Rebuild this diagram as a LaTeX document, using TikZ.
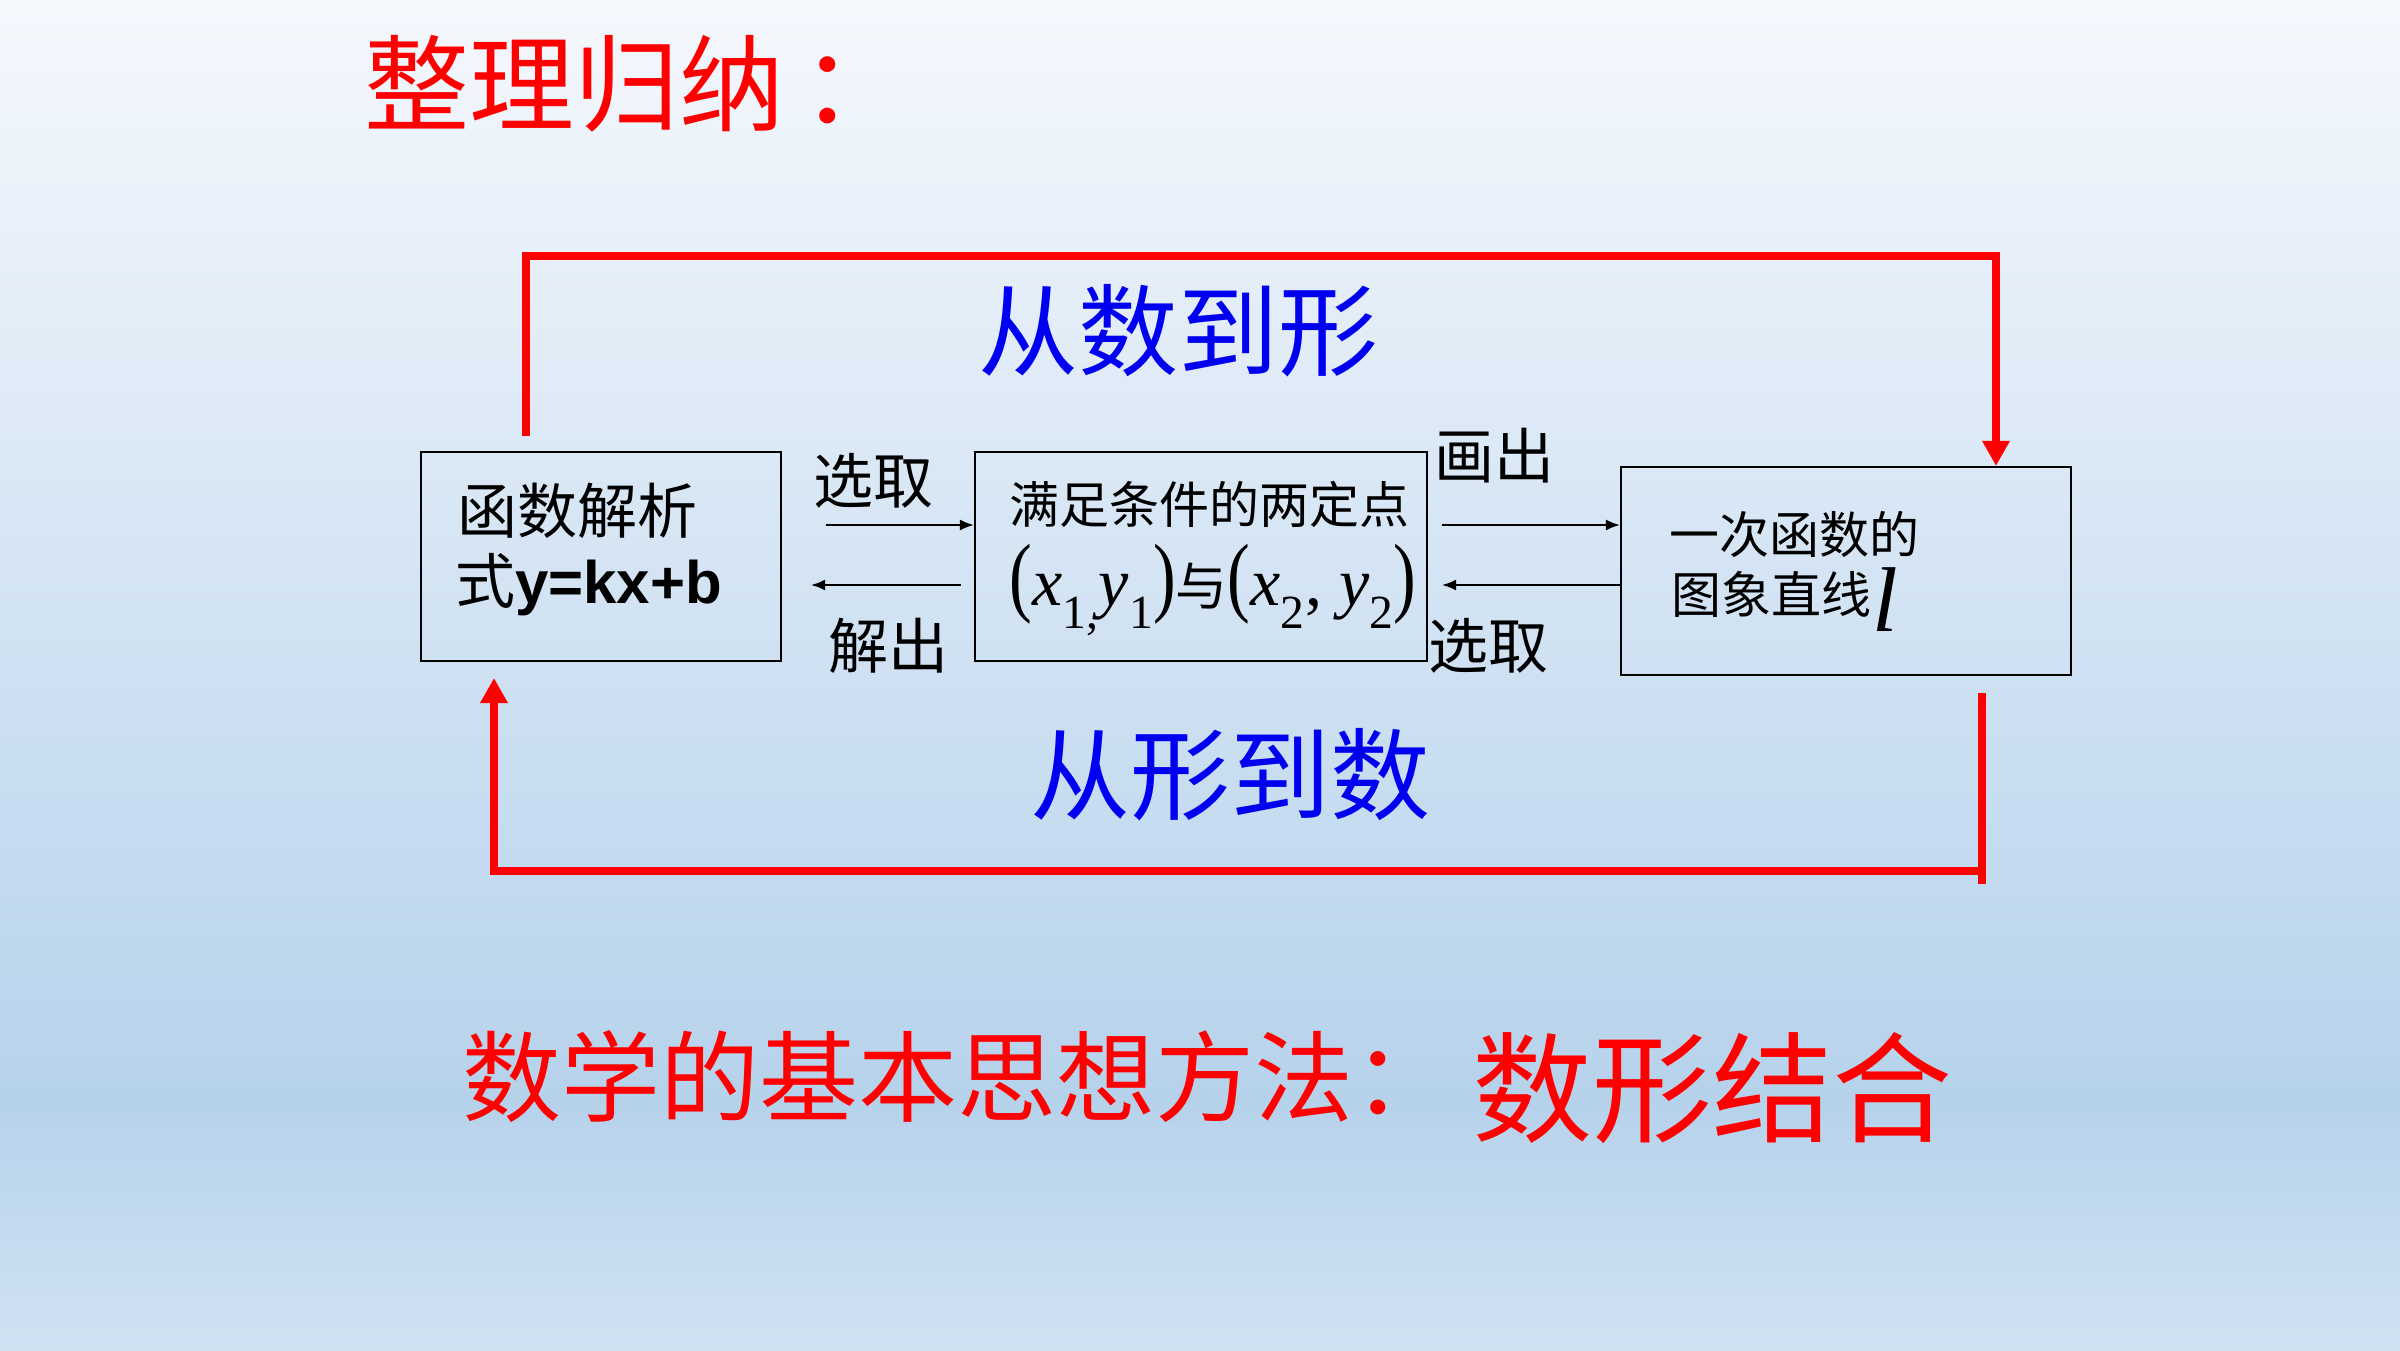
\documentclass[tikz,border=0pt]{standalone}
\usepackage{fontspec}
\setmainfont{Noto Sans CJK SC}
\newfontfamily\tnr{Liberation Serif}
\newfontfamily\arial{Liberation Sans}
\usetikzlibrary{arrows.meta}
\definecolor{bgtop}{HTML}{F5F8FD}
\definecolor{bgmid}{HTML}{B6D2EB}
\definecolor{bgbot}{HTML}{D0E2F2}
\definecolor{myred}{HTML}{FF0000}
\definecolor{myblue}{HTML}{0000F0}
\newcommand{\fsz}[1]{\fontsize{#1}{#1}\selectfont}
\newcommand{\tallp}[1]{\scalebox{1}[1.3]{#1}}
\tikzset{
  box/.style={draw=black, line width=2.2pt, fill=none, inner sep=0pt},
  txt/.style={inner sep=0pt, outer sep=0pt, text=black},
  blk/.style={draw=black, line width=2pt, -{Latex[length=14pt,width=11pt]}},
  redl/.style={draw=myred, line width=7.5pt, line join=miter},
  reda/.style={redl, -{Triangle[length=25pt,width=26pt]}},
}
\begin{document}
\begin{tikzpicture}[x=1pt,y=-1pt]
\useasboundingbox (0,0) rectangle (2400,1350);
\shade[top color=bgtop, bottom color=bgmid] (0,0) rectangle (2400,1101);
\shade[top color=bgmid, bottom color=bgbot] (0,1100) rectangle (2400,1350);

% title
\node[txt, anchor=west, text=myred] (title) at (364,84) {\fsz{105}整理归纳\,：};

% boxes
\node[box, minimum width=360pt, minimum height=209pt] (b1) at (601,556.5) {};
\node[box, minimum width=452pt, minimum height=209pt] (b2) at (1201,556.5) {};
\node[box, minimum width=450pt, minimum height=208pt] (b3) at (1846,571) {};

% box texts
\node[txt, anchor=west] (t1a) at (457,511) {\fsz{60}函数解析};
\node[txt, anchor=west] (t1b) at (455,585) {\fsz{60}式{\arial\bfseries y=kx+b}};
\node[txt] (t2a) at (1209,504) {\fsz{50}满足条件的两定点};
\node[txt] (t2b) at (1213,590) {\tnr\fsz{68}\tallp{(}\textit{x}\textsubscript{1,}\textit{y}\textsubscript{1}\tallp{)}{\rmfamily\fsz{52}与}\tallp{(}\textit{x}\textsubscript{2}, \textit{y}\textsubscript{2}\tallp{)}};
\node[txt, anchor=west] (t3a) at (1669,534) {\fsz{50}一次函数的};
\node[txt, anchor=west] (t3b) at (1671,594) {\fsz{50}图象直线};
\node[txt, anchor=west] (t3l) at (1872,600) {\tnr\itshape\fsz{92}l};

% arrow labels
\node[txt] (l1) at (873,481) {\fsz{60}选取};
\node[txt] (l2) at (888,646) {\fsz{60}解出};
\node[txt] (l3) at (1494,456) {\fsz{60}画出};
\node[txt] (l4) at (1488,646) {\fsz{60}选取};

% black arrows
\coordinate (a1s) at (826,525);
\coordinate (a2s) at (961,585);
\coordinate (a2e) at (811,585);
\coordinate (a3s) at (1442,525);
\coordinate (a4e) at (1442,585);
\draw[blk] (a1s) -- (a1s -| b2.west);
\draw[blk] (a2s) -- (a2e);
\draw[blk] (a3s) -- (a3s -| b3.west);
\draw[blk] (a4e -| b3.west) -- (a4e);

% red loops
\coordinate (rA) at (526,436);
\coordinate (rB) at (1996,256);
\draw[reda] (rA) |- (rB) -- (rB |- b3.north);
\coordinate (rC) at (1982,693);
\coordinate (rD) at (1982,884);
\coordinate (rE) at (494,871);
\coordinate (rF) at (494,678);
\draw[redl] (rC) -- (rD);
\draw[reda] (rD |- rE) -- (rE) -- (rF);

% blue labels
\node[txt, text=myblue] (up) at (1178,331) {\fsz{100}从数到形};
\node[txt, text=myblue] (down) at (1230,775) {\fsz{100}从形到数};

% bottom conclusion
\node[txt, anchor=west, text=myred] (c1) at (462,1077) {\fsz{99}数学的基本思想方法：};
\node[txt, anchor=west, text=myred] (c2) at (1472,1088) {\fsz{120}数形结合};
\end{tikzpicture}
\end{document}
